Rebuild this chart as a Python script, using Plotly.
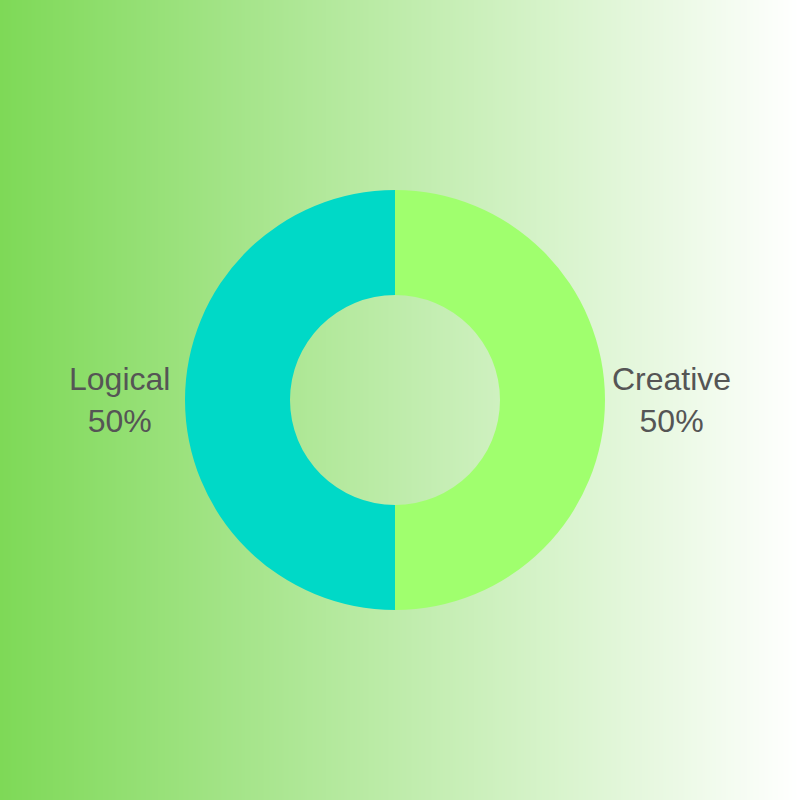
import plotly.graph_objects as go
import base64, struct, zlib

labels = ["Creative", "Logical"]
values = [50, 50]
slice_colors = ["#A0FF6E", "#00D9C7"]

bg_left = (0x7E, 0xD9, 0x57)
bg_right = (0xFF, 0xFF, 0xFF)


def gradient_png(w, c0, c1):
    row = b"\x00" + b"".join(
        bytes(int(round(c0[k] + (c1[k] - c0[k]) * i / (w - 1))) for k in range(3))
        for i in range(w)
    )
    raw = row * 2

    def chunk(t, d):
        c = struct.pack(">I", len(d)) + t + d
        return c + struct.pack(">I", zlib.crc32(t + d) & 0xFFFFFFFF)

    png = b"\x89PNG\r\n\x1a\n"
    png += chunk(b"IHDR", struct.pack(">IIBBBBB", w, 2, 8, 2, 0, 0, 0))
    png += chunk(b"IDAT", zlib.compress(raw, 9))
    png += chunk(b"IEND", b"")
    return "data:image/png;base64," + base64.b64encode(png).decode()


dom_x = [0.23125, 0.75625]
dom_y = [0.2375, 0.7625]
cx = (dom_x[0] + dom_x[1]) / 2
cy = (dom_y[0] + dom_y[1]) / 2
label_offset = 0.345

fig = go.Figure()

fig.add_trace(go.Pie(
    labels=labels, values=values, hole=0.5,
    marker=dict(colors=slice_colors),
    textinfo="none",
    sort=False, direction="clockwise", rotation=0,
    showlegend=False, automargin=False,
    domain=dict(x=dom_x, y=dom_y),
))

total = sum(values)
# clockwise from 12 o'clock: first slice on the right, second on the left
sides = [1, -1]
annotations = []
for lab, v, s in zip(labels, values, sides):
    annotations.append(dict(
        text=f"{lab}<br>{round(100 * v / total)}%",
        x=cx + s * label_offset, y=cy, xref="paper", yref="paper",
        xanchor="center", yanchor="middle", showarrow=False, align="center",
        font=dict(family="Liberation Sans, Arial, sans-serif", size=32, color="#555555"),
    ))

fig.update_layout(
    width=800, height=800,
    margin=dict(l=0, r=0, t=0, b=0, autoexpand=False),
    paper_bgcolor="white",
    annotations=annotations,
    images=[dict(
        source=gradient_png(800, bg_left, bg_right),
        xref="paper", yref="paper", x=0, y=1, sizex=1, sizey=1,
        xanchor="left", yanchor="top", sizing="stretch", layer="below",
    )],
)

fig.write_html("out.html")
